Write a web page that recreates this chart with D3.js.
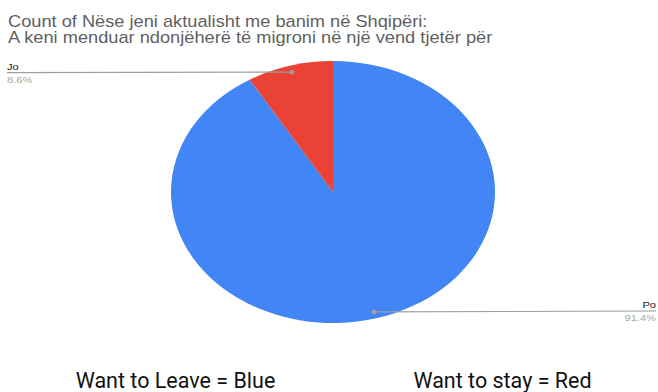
<!DOCTYPE html>
<html>
<head>
<meta charset="utf-8">
<script src="https://cdn.jsdelivr.net/npm/d3@7"></script>
<style>
  html, body { margin: 0; padding: 0; background: #fff; }
  svg { display: block; }
</style>
</head>
<body>
<svg id="chart" width="658" height="392"></svg>
<script>
// Survey answers and their shares (percent)
const categories = ["Po", "Jo"];
const shares = [91.4, 8.6];
const percentLabels = ["91.4%", "8.6%"];
const colors = ["#4285f4", "#ea4335"];
const titleLines = [
  "Count of Nëse jeni aktualisht me banim në Shqipëri:",
  "A keni menduar ndonjëherë të migroni në një vend tjetër për"
];
const captions = ["Want to Leave = Blue", "Want to stay = Red"];

const svg = d3.select("#chart");
const cx = 333, cy = 192, rx = 162, ry = 131;
const stretch = rx / ry;   // the chart is drawn wider than tall

// Title
svg.append("g").selectAll("text").data(titleLines).join("text")
  .attr("transform", (d, i) => `translate(8,${26.7 + i * 16}) scale(1.14,1)`)
  .attr("font-family", "Liberation Sans, Arial, sans-serif")
  .attr("font-size", 16)
  .attr("fill", "#5f5f5f")
  .text(d => d);

// Pie, drawn as a circle and stretched horizontally
const data = categories.map((c, i) => ({ name: c, value: shares[i], label: percentLabels[i], color: colors[i] }));
const pie = d3.pie().sort(null).value(d => d.value);
const arcs = pie(data);
const arc = d3.arc().innerRadius(0).outerRadius(ry);

svg.append("g")
  .attr("transform", `translate(${cx},${cy}) scale(${stretch},1)`)
  .selectAll("path").data(arcs).join("path")
  .attr("d", arc)
  .attr("fill", d => d.data.color);

// Leader lines with labels
const anchor = d => {
  const a = (d.startAngle + d.endAngle) / 2;
  return [cx + rx * 0.95 * Math.sin(a), cy - ry * 0.95 * Math.cos(a)];
};
const labelSpec = {
  Po: { x: 656, lineY: 311, anchor: "end" },
  Jo: { x: 7, lineY: 72.7, anchor: "start" }
};

const lg = svg.append("g");
arcs.forEach(d => {
  const [px, py] = anchor(d);
  const s = labelSpec[d.data.name];
  lg.append("line")
    .attr("x1", px).attr("y1", py)
    .attr("x2", s.x).attr("y2", s.lineY)
    .attr("stroke", "#9e9e9e").attr("stroke-width", 1.2);
  lg.append("circle")
    .attr("cx", px).attr("cy", py).attr("r", 2.4)
    .attr("fill", "#9e9e9e");
  lg.append("text")
    .attr("transform", `translate(${s.x},${s.lineY - 3}) scale(${stretch},1)`)
    .attr("text-anchor", s.anchor)
    .attr("font-family", "Liberation Sans, Arial, sans-serif")
    .attr("font-size", 9)
    .attr("fill", "#222")
    .text(d.data.name);
  lg.append("text")
    .attr("transform", `translate(${s.x},${s.lineY + 10}) scale(${stretch},1)`)
    .attr("text-anchor", s.anchor)
    .attr("font-family", "Liberation Sans, Arial, sans-serif")
    .attr("font-size", 9)
    .attr("fill", "#a8a8a8")
    .text(d.data.label);
});

// Colour key captions
svg.append("g").selectAll("text").data(captions).join("text")
  .attr("x", (d, i) => [175.5, 502.5][i])
  .attr("y", 388)
  .attr("text-anchor", "middle")
  .attr("font-family", "Roboto, sans-serif")
  .attr("font-size", 21.5)
  .attr("fill", "#111")
  .text(d => d);
</script>
</body>
</html>
